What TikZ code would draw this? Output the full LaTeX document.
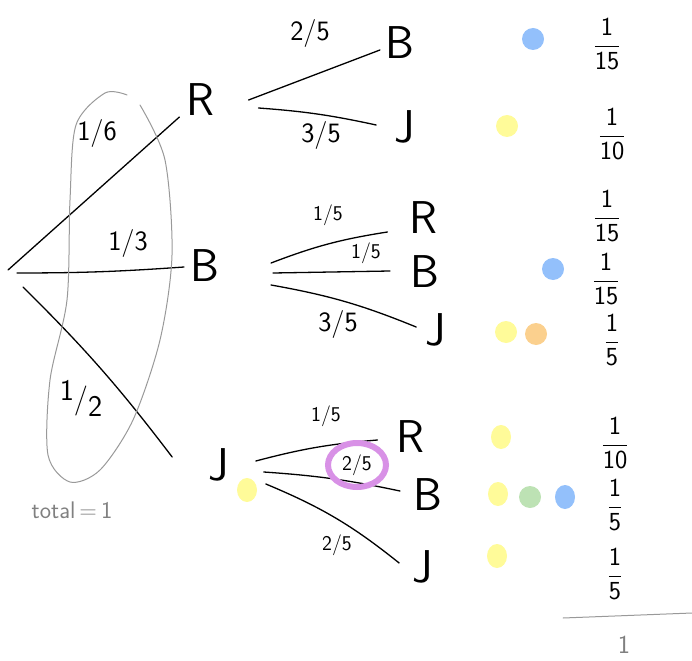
\documentclass[tikz,border=0pt]{standalone}
\usepackage{amsmath}
\usepackage{tikz}
\usetikzlibrary{positioning, calc}

\definecolor{dotblue}{HTML}{93C0FB}
\definecolor{dotyellow}{HTML}{FFFB99}
\definecolor{dotorange}{HTML}{FBD08E}
\definecolor{dotgreen}{HTML}{BDE2B4}
\definecolor{ringpurple}{HTML}{D891E6}
\newcommand{\hfrac}[2]{$\dfrac{\text{#1}}{\text{#2}}$}

\begin{document}
\begin{tikzpicture}[x=1pt, y=-1pt, line width=1.3pt, line cap=round,
    font=\sffamily,
    outcome/.style={font=\sffamily\fontsize{46}{46}\selectfont, inner sep=0pt},
    prob/.style={font=\sffamily\fontsize{28}{28}\selectfont, inner sep=0pt},
    smallprob/.style={font=\sffamily\fontsize{21}{21}\selectfont, inner sep=0pt},
    result/.style={font=\sffamily\fontsize{26}{26}\selectfont, inner sep=0pt}]
  \useasboundingbox (0,0) rectangle (692,660);

  % first draw
  \coordinate (root) at (8,270);
  \node[outcome] (r) at (200,100) {R};
  \node[outcome] (b) at (205,266) {B};
  \node[outcome] (j) at (219,465) {J};
  \draw (root) -- ($(r.west)+(-6,17)$);
  \draw ($(root)+(9,3)$) to[bend right=2] ($(b.west)+(-6,1)$);
  \draw ($(root)+(15,17)$) to[bend left=4] ($(j.west)+(-36,-8)$);
  \node[prob] (p-r) at (97,134) {1/6};
  \node[prob] (p-b) at (128,243) {1/3};
  \node[prob, font=\sffamily\fontsize{30}{30}\selectfont] (p-j) at (81,398)
    {\raisebox{8pt}{1}/\raisebox{-8pt}{2}};

  % total loop
  \draw[gray!80, line width=1pt] plot[smooth] coordinates {
      (140,105) (165,160) (172,255) (160,340) (133,420) (100,470) (70,482)
      (48,455) (50,380) (67,300) (70,200) (76,125) (105,93) (127,95)};
  \node[gray, font=\sffamily\fontsize{24}{24}\selectfont, inner sep=0pt] (total) at (72,510) {total\,=\,1};

  % second draw after R
  \node[outcome] (rb) at (400,43) {B};
  \node[outcome] (rj) at (405,127) {J};
  \draw ($(r.east)+(34,0)$) -- ($(rb.west)+(-5,7)$);
  \draw ($(r.east)+(44,8)$) to[bend left=4] ($(rj.west)+(-18,-2)$);
  \node[prob] (p-rb) at (310,34) {2/5};
  \node[prob] (p-rj) at (321,136) {3/5};

  % second draw after B
  \node[outcome] (br) at (423,218) {R};
  \node[outcome] (bb) at (425,272) {B};
  \node[outcome] (bj) at (436,330) {J};
  \draw ($(b.east)+(51,-3)$) to[bend left=6] ($(br.west)+(-21,14)$);
  \draw ($(b.east)+(53,7)$) -- ($(bb.west)+(-20,-1)$);
  \draw ($(b.east)+(51,19)$) to[bend left=6] ($(bj.west)+(-9,-3)$);
  \node[smallprob] (p-br) at (328,215) {1/5};
  \node[smallprob] (p-bb) at (366,253) {1/5};
  \node[prob] (p-bj) at (338,324) {3/5};

  % second draw after J
  \node[outcome] (jr) at (410,437) {R};
  \node[outcome] (jb) at (428,495) {B};
  \node[outcome] (jj) at (423,567) {J};
  \draw ($(j.east)+(26,-4)$) to[bend left=5] ($(jr.west)+(-18,3)$);
  \draw ($(j.east)+(34,7)$) to[bend left=4] ($(jb.west)+(-13,-4)$);
  \draw ($(j.east)+(36,19)$) to[bend left=8] ($(jj.west)+(-13,-4)$);
  \node[smallprob] (p-jr) at (326,416) {1/5};
  \node[smallprob] (p-jb) at (357,465) {2/5};
  \node[smallprob] (p-jj) at (337,545) {2/5};
  \draw[ringpurple, line width=6pt] (p-jb) ellipse (29pt and 22pt);

  % colour dots
  \foreach \x/\y/\c in {533/39/dotblue, 507/126/dotyellow, 553/269/dotblue,
      506/332/dotyellow, 536/334/dotorange, 530/497/dotgreen}
    \fill[\c] (\x,\y) circle (11pt);
  \foreach \x/\y/\c in {247/490/dotyellow, 501/437/dotyellow, 498/494/dotyellow,
      565/497/dotblue, 497/556/dotyellow}
    \fill[\c] (\x,\y) ellipse (10pt and 12pt);

  % path probabilities
  \node[result] (f-rb) at (607,44) {\hfrac{1}{15}};
  \node[result] (f-rj) at (612,134) {\hfrac{1}{10}};
  \node[result] (f-br) at (607,216) {\hfrac{1}{15}};
  \node[result] (f-bb) at (606,279) {\hfrac{1}{15}};
  \node[result] (f-bj) at (612,340) {\hfrac{1}{5}};
  \node[result] (f-jr) at (615,443) {\hfrac{1}{10}};
  \node[result] (f-jb) at (615,505) {\hfrac{1}{5}};
  \node[result] (f-jj) at (615,574) {\hfrac{1}{5}};
  \coordinate (sum-l) at (563,618);
  \coordinate (sum-r) at (692,613);
  \draw[gray!80, line width=1pt] (sum-l) -- (sum-r);
  \node[gray, font=\sffamily\fontsize{26}{26}\selectfont, inner sep=0pt] (sum) at (624,645) {1};
\end{tikzpicture}
\end{document}
